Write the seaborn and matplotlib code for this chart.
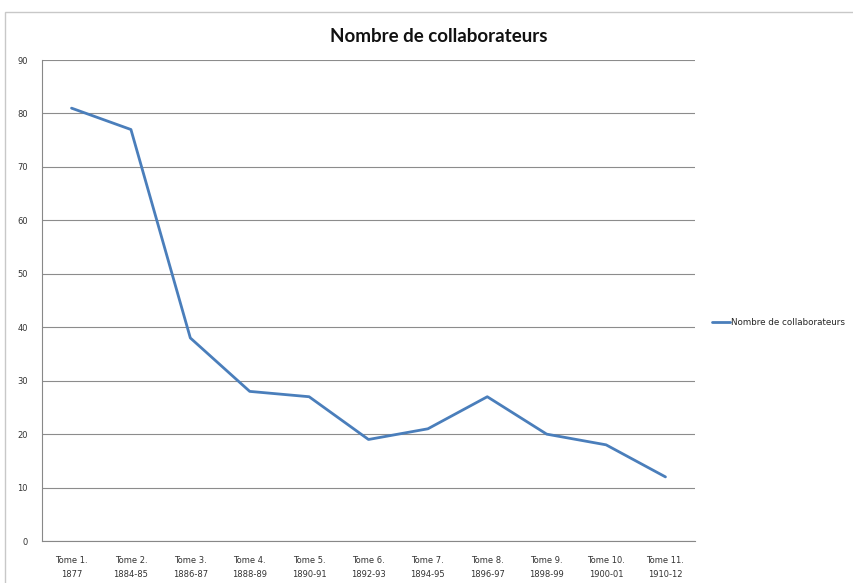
import matplotlib
matplotlib.use("Agg")
import matplotlib.pyplot as plt
import seaborn as sns
import pandas as pd
from matplotlib.patches import Rectangle

tomes = ["Tome 1.\n1877", "Tome 2.\n1884-85", "Tome 3.\n1886-87", "Tome 4.\n1888-89",
         "Tome 5.\n1890-91", "Tome 6.\n1892-93", "Tome 7.\n1894-95", "Tome 8.\n1896-97",
         "Tome 9.\n1898-99", "Tome 10.\n1900-01", "Tome 11.\n1910-12"]
collaborateurs = [81, 77, 38, 28, 27, 19, 21, 27, 20, 18, 12]
y_ticks = list(range(0, 91, 10))

df = pd.DataFrame({"pos": range(len(tomes)), "n": collaborateurs})

sns.set_style("white")
plt.rcParams["font.family"] = ["DejaVu Sans"]

fig = plt.figure(figsize=(8.54, 5.83), dpi=100)
ax = fig.add_axes([0.049, 0.072, 0.765, 0.825])

fig.patches.append(Rectangle((5 / 854, -0.01), 1.0, 1 - 12 / 583 + 0.01,
                             transform=fig.transFigure, fill=False,
                             edgecolor="#c8c8c8", linewidth=1.0))

sns.lineplot(data=df, x="pos", y="n", ax=ax, color="#4a7ebb", linewidth=2.0,
             label="Nombre de collaborateurs")

ax.set_xlim(-0.5, len(tomes) - 0.5)
ax.set_ylim(0, 90)
ax.set_yticks(y_ticks)
ax.set_yticklabels([str(v) for v in y_ticks], fontsize=6, color="#333333")
ax.set_xticks(range(len(tomes)))
ax.set_xticklabels(tomes, fontsize=6, color="#333333", linespacing=1.7)
ax.set_xticks([i - 0.5 for i in range(len(tomes) + 1)], minor=True)
ax.tick_params(axis="x", which="major", length=0, pad=11)
ax.tick_params(axis="x", which="minor", length=4, color="#888888", direction="out")
ax.tick_params(axis="y", length=4, color="#888888", direction="out", pad=6)
ax.yaxis.grid(True, color="#8c8c8c", linewidth=0.8)
ax.set_axisbelow(True)
ax.set_xlabel("")
ax.set_ylabel("")
for side in ["top", "right"]:
    ax.spines[side].set_visible(False)
ax.spines["left"].set_color("#888888")
ax.spines["bottom"].set_color("#888888")
ax.spines["left"].set_linewidth(0.8)
ax.spines["bottom"].set_linewidth(0.8)

fig.text(0.514, 0.938, "Nombre de collaborateurs", ha="center", va="center",
         fontsize=13.5, fontweight="bold", color="#111111",
         family=["Lato", "DejaVu Sans"])

ax.legend(loc="center left", bbox_to_anchor=(1.014, 0.455), frameon=False,
          fontsize=6.3, handlelength=2.0, handletextpad=0.1)

fig.savefig("out.png", dpi=100)
